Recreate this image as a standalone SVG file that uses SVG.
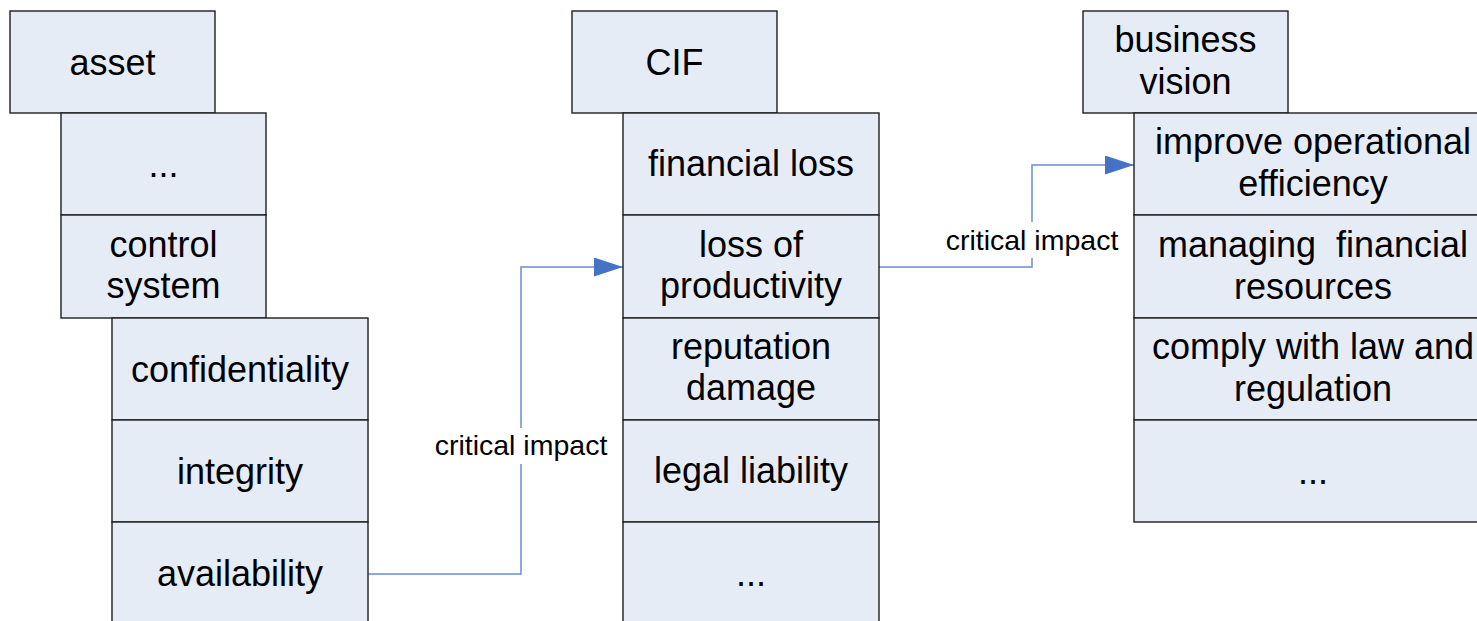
<svg xmlns="http://www.w3.org/2000/svg" width="1477" height="621" viewBox="0 0 1477 621">
<style>
.box{fill:#E6ECF6;stroke:#1f1f1f;stroke-width:1.4}
.t{font-family:"Liberation Sans",Arial,sans-serif;font-size:36px;fill:#000;text-anchor:middle}
.lbl{font-family:"Liberation Sans",Arial,sans-serif;font-size:28.5px;fill:#000;text-anchor:middle}
.con{fill:none;stroke:#6A8FCF;stroke-width:1.5}
</style>
<defs>
<marker id="arr" markerUnits="userSpaceOnUse" markerWidth="30" markerHeight="20" refX="29" refY="9.5" orient="auto">
<path d="M0,0 L29,9.5 L0,19 z" fill="#4472C4"/>
</marker>
</defs>
<rect width="1477" height="621" fill="#fff"/>

<g id="connectors">
<path class="con" d="M368,574 H521 V267 H623" marker-end="url(#arr)"/>
<path class="con" d="M879,267 H1032 V165 H1134" marker-end="url(#arr)"/>
<rect x="434" y="428" width="174" height="36" fill="#fff"/>
<text class="lbl" x="521" y="455">critical impact</text>
<rect x="945" y="222" width="174" height="36" fill="#fff"/>
<text class="lbl" x="1032" y="250">critical impact</text>
</g>

<g id="asset">
<rect class="box" x="10" y="11" width="205" height="102"/>
<text class="t" x="112.5" y="75">asset</text>
</g>
<g id="asset-more">
<rect class="box" x="61" y="113" width="205" height="102"/>
<text class="t" x="163.5" y="177">...</text>
</g>
<g id="control-system">
<rect class="box" x="61" y="215" width="205" height="103"/>
<text class="t" x="163.5" y="257">control</text>
<text class="t" x="163.5" y="298">system</text>
</g>
<g id="confidentiality">
<rect class="box" x="112" y="318" width="256" height="102"/>
<text class="t" x="240" y="382">confidentiality</text>
</g>
<g id="integrity">
<rect class="box" x="112" y="420" width="256" height="102"/>
<text class="t" x="240" y="484">integrity</text>
</g>
<g id="availability">
<rect class="box" x="112" y="522" width="256" height="103"/>
<text class="t" x="240" y="586">availability</text>
</g>

<g id="cif">
<rect class="box" x="572" y="11" width="205" height="102"/>
<text class="t" x="674.5" y="75">CIF</text>
</g>
<g id="financial-loss">
<rect class="box" x="623" y="113" width="256" height="102"/>
<text class="t" x="751" y="176">financial loss</text>
</g>
<g id="loss-of-productivity">
<rect class="box" x="623" y="215" width="256" height="103"/>
<text class="t" x="751" y="257">loss of</text>
<text class="t" x="751" y="298">productivity</text>
</g>
<g id="reputation-damage">
<rect class="box" x="623" y="318" width="256" height="102"/>
<text class="t" x="751" y="359">reputation</text>
<text class="t" x="751" y="400">damage</text>
</g>
<g id="legal-liability">
<rect class="box" x="623" y="420" width="256" height="102"/>
<text class="t" x="751" y="483">legal liability</text>
</g>
<g id="cif-more">
<rect class="box" x="623" y="522" width="256" height="103"/>
<text class="t" x="751" y="586">...</text>
</g>

<g id="business-vision">
<rect class="box" x="1083" y="11" width="205" height="102"/>
<text class="t" x="1185.5" y="52">business</text>
<text class="t" x="1185.5" y="94">vision</text>
</g>
<g id="improve-efficiency">
<rect class="box" x="1134" y="113" width="358" height="102"/>
<text class="t" x="1313" y="154">improve operational</text>
<text class="t" x="1313" y="196">efficiency</text>
</g>
<g id="managing-resources">
<rect class="box" x="1134" y="215" width="358" height="103"/>
<text class="t" x="1313" y="257" xml:space="preserve">managing  financial</text>
<text class="t" x="1313" y="299">resources</text>
</g>
<g id="comply-law">
<rect class="box" x="1134" y="318" width="358" height="102"/>
<text class="t" x="1313" y="359">comply with law and</text>
<text class="t" x="1313" y="401">regulation</text>
</g>
<g id="vision-more">
<rect class="box" x="1134" y="420" width="358" height="102"/>
<text class="t" x="1313" y="484">...</text>
</g>
</svg>
